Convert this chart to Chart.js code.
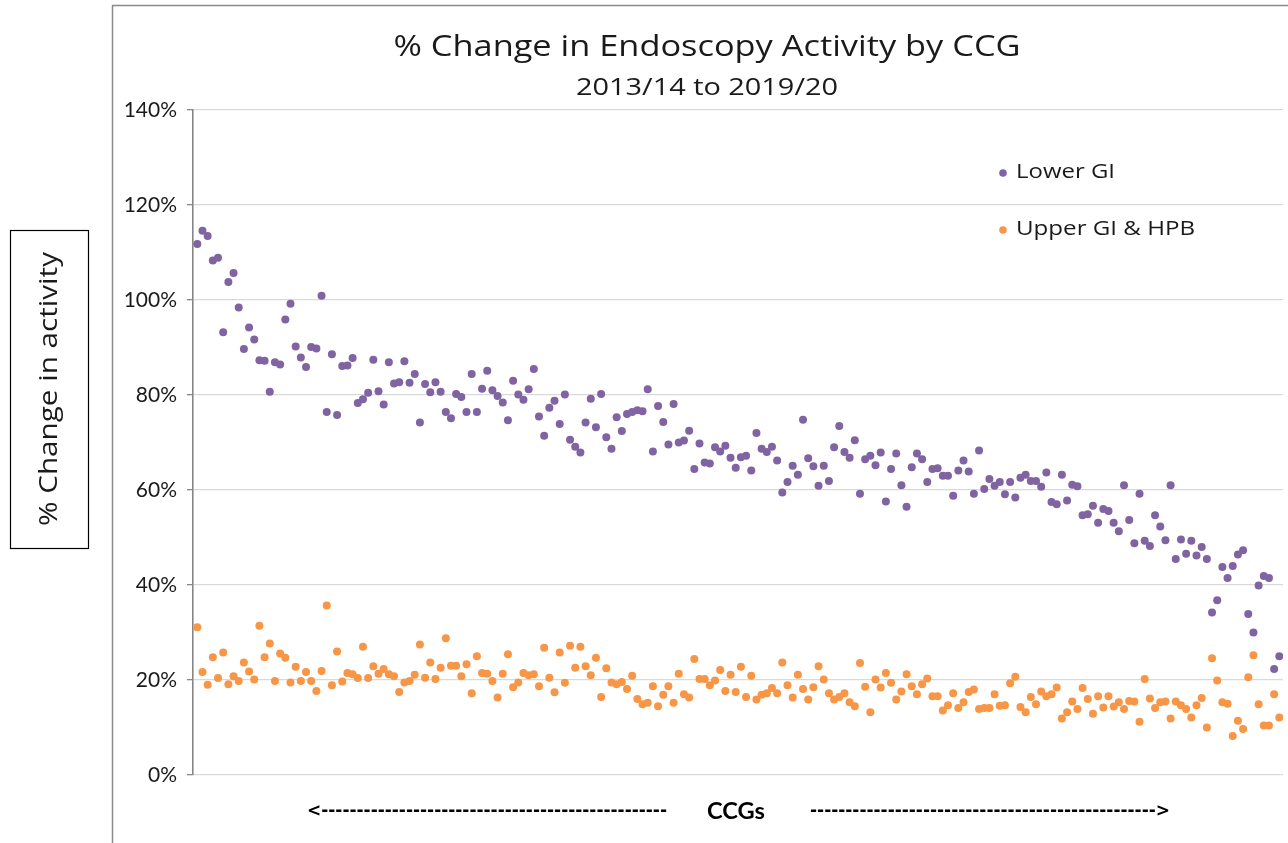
<!DOCTYPE html>
<html>
<head>
<meta charset="utf-8">
<script src="https://cdn.jsdelivr.net/npm/chart.js@4.4.1/dist/chart.umd.min.js"></script>
<style>
  html, body { margin: 0; padding: 0; background: #ffffff; }
  #wrap { position: relative; width: 1288px; height: 843px; }
  canvas { display: block; }
</style>
</head>
<body>
<div id="wrap"><canvas id="c" width="1288" height="843"></canvas></div>
<script>
// ---------------- DATA ----------------
const chartTitle = '% Change in Endoscopy Activity by CCG';
const chartSubtitle = '2013/14 to 2019/20';
const yAxisTitle = '% Change in activity';
const xAxisTitle = 'CCGs';
const seriesNames = ['Lower GI', 'Upper GI & HPB'];
const yTickValues = [0, 20, 40, 60, 80, 100, 120, 140];

// % change per CCG (CCGs ordered left to right as in the source chart)
const lowerGI = [
  111.8, 114.6, 113.5, 108.3, 108.9, 93.2, 103.8, 105.7, 98.4, 89.7, 94.2, 91.7, 87.3, 87.2, 80.7, 86.9, 86.4, 95.9, 99.2, 90.2,
  87.9, 85.9, 90.1, 89.8, 100.9, 76.4, 88.6, 75.8, 86.1, 86.2, 87.8, 78.3, 79.1, 80.5, 87.4,
  80.8, 78.0, 86.9, 82.4, 82.7, 87.1, 82.6, 84.4, 74.2, 82.3, 80.6, 82.7, 80.7, 76.4, 75.1, 80.2, 79.6, 76.4, 84.4, 76.4,
  81.3, 85.1, 81.0, 79.8, 78.4, 74.7, 83.0, 80.1, 79.0, 81.2, 85.5, 75.5, 71.4, 77.3, 78.8,
  73.9, 80.1, 70.6, 69.1, 67.9, 74.2, 79.2, 73.2, 80.2, 71.1, 68.7, 75.3, 72.4, 76.0, 76.4, 76.8, 76.6, 81.2, 68.1, 77.7,
  74.3, 69.6, 78.1, 70.0, 70.4, 72.5, 64.4, 69.8, 65.8, 65.6, 69.0, 68.1, 69.3, 66.8, 64.7,
  66.9, 67.2, 64.1, 72.0, 68.7, 68.0, 69.1, 66.2, 59.5, 61.7, 65.1, 63.2, 74.8, 66.7, 65.0, 60.9, 65.1, 61.9, 69.0, 73.5,
  68.0, 66.8, 70.5, 59.2, 66.5, 67.2, 65.2, 67.9, 57.6, 64.4, 67.7, 61.0, 56.5, 64.8,
  67.7, 66.5, 61.7, 64.4, 64.6, 63.0, 63.0, 58.8, 64.1, 66.2, 63.9, 59.2, 68.3, 60.2, 62.3, 60.9, 61.7, 59.1, 61.7, 58.4,
  62.6, 63.2, 61.9, 61.9, 60.7, 63.7, 57.5, 57.0, 63.2, 57.8, 61.1, 60.8, 54.7, 54.9, 56.7,
  53.1, 56.0, 55.6, 53.1, 51.3, 61.0, 53.7, 48.8, 59.2, 49.3, 48.2, 54.7, 52.3, 49.4, 61.0, 45.5, 49.6, 46.6, 49.3, 46.2,
  48.0, 45.5, 34.2, 36.8, 43.8, 41.5, 44.0, 46.4, 47.3, 33.9, 30.0, 39.9, 41.9, 41.5, 22.3, 25.0
];
const upperGI = [
  31.1, 21.7, 19.0, 24.8, 20.4, 25.8, 19.1, 20.8, 19.8, 23.7, 21.8, 20.1, 31.4, 24.8, 27.7, 19.8, 25.6, 24.7, 19.5, 22.8,
  19.8, 21.7, 19.8, 17.7, 21.9, 35.7, 18.9, 26.0, 19.7, 21.5, 21.2, 20.4, 27.0, 20.4, 22.9,
  21.3, 22.3, 21.2, 20.8, 17.5, 19.5, 19.8, 21.1, 27.5, 20.5, 23.7, 20.2, 22.6, 28.8, 23.0, 23.0, 20.8, 23.3, 17.2, 25.0,
  21.5, 21.3, 19.8, 16.3, 21.3, 25.4, 18.5, 19.5, 21.5, 21.0, 21.2, 18.7, 26.8, 20.5, 17.4,
  25.8, 19.4, 27.2, 22.6, 27.0, 22.9, 21.0, 24.7, 16.4, 22.5, 19.5, 19.1, 19.6, 18.1, 20.9, 16.0, 14.9, 15.2, 18.7, 14.5,
  16.9, 18.7, 15.2, 21.3, 17.0, 16.3, 24.4, 20.2, 20.2, 18.9, 19.9, 22.1, 17.7, 21.1, 17.5,
  22.8, 16.4, 20.9, 15.9, 16.9, 17.2, 18.3, 17.2, 23.7, 18.9, 16.3, 21.1, 18.1, 15.9, 18.5, 22.9, 20.1, 17.2, 15.9, 16.4,
  17.2, 15.3, 14.5, 23.6, 18.6, 13.2, 20.1, 18.4, 21.5, 19.4, 15.9, 17.6, 21.2, 18.7,
  17.0, 19.1, 20.3, 16.6, 16.6, 13.6, 14.7, 17.2, 14.1, 15.3, 17.5, 18.0, 13.9, 14.1, 14.1, 17.0, 14.6, 14.7, 19.3, 20.7,
  14.3, 13.2, 16.4, 14.9, 17.6, 16.6, 17.0, 18.4, 11.9, 13.2, 15.5, 13.9, 18.3, 16.0, 12.9,
  16.6, 14.2, 16.6, 14.4, 15.3, 13.9, 15.6, 15.5, 11.2, 20.2, 16.1, 14.1, 15.3, 15.5, 11.9, 15.5, 14.7, 13.9, 12.1, 14.7,
  16.2, 10.0, 24.6, 19.9, 15.3, 15.0, 8.2, 11.4, 9.7, 20.6, 25.2, 14.9, 10.4, 10.4, 17.0, 12.1
];
const ccgs = lowerGI.map((_, i) => i + 1);

// ---------------- STYLE ----------------
const PURPLE = '#8064a2';
const ORANGE = '#f79646';
const TEXT = '#1a1a1a';
const FONT = '"Open Sans", Lato, "Liberation Sans", sans-serif';
const TICK_FONT = 'Lato, "Open Sans", "Liberation Sans", sans-serif';

// draw text widened horizontally to a target width (source font is a wide geometric face)
function fitText(ctx, text, x, y, font, targetW) {
  ctx.font = font;
  const w = ctx.measureText(text).width;
  const s = targetW / w;
  ctx.save();
  ctx.translate(x, y);
  ctx.scale(s, 1);
  ctx.fillText(text, 0, 0);
  ctx.restore();
}

const decorPlugin = {
  id: 'decor',
  beforeDraw(chart) {
    const ctx = chart.ctx;
    ctx.save();
    ctx.fillStyle = '#ffffff';
    ctx.fillRect(0, 0, chart.width, chart.height);
    ctx.strokeStyle = '#8a8a8a';
    ctx.lineWidth = 1.5;
    ctx.beginPath();
    ctx.moveTo(112.5, chart.height);
    ctx.lineTo(112.5, 5.5);
    ctx.lineTo(chart.width, 5.5);
    ctx.stroke();
    ctx.restore();
  },
  afterDraw(chart) {
    const ctx = chart.ctx;
    ctx.save();
    ctx.fillStyle = TEXT;
    ctx.textBaseline = 'middle';
    ctx.textAlign = 'center';
    // title + subtitle
    fitText(ctx, chartTitle, 707, 47, '30px ' + FONT, 627);
    fitText(ctx, chartSubtitle, 707, 88, '23px ' + FONT, 262);

    // legend inside plot
    const legendItems = [
      { name: seriesNames[0], color: PURPLE, y: 172, w: 99 },
      { name: seriesNames[1], color: ORANGE, y: 229, w: 179 }
    ];
    ctx.textAlign = 'left';
    legendItems.forEach(it => {
      ctx.fillStyle = it.color;
      ctx.beginPath();
      ctx.arc(1003, it.y + 1, 3.8, 0, Math.PI * 2);
      ctx.fill();
      ctx.fillStyle = TEXT;
      fitText(ctx, it.name, 1016, it.y, '20px ' + FONT, it.w);
    });

    // y-axis title in a box
    ctx.strokeStyle = '#000000';
    ctx.lineWidth = 1.2;
    ctx.strokeRect(10.5, 230.5, 78, 318);
    ctx.save();
    ctx.translate(50, 389);
    ctx.rotate(-Math.PI / 2);
    ctx.textAlign = 'center';
    ctx.fillStyle = TEXT;
    fitText(ctx, yAxisTitle, 0, 0, '26px ' + FONT, 274);
    ctx.restore();

    // x-axis label with dashed arrows
    ctx.textAlign = 'center';
    ctx.fillStyle = '#000000';
    fitText(ctx, xAxisTitle, 736, 812, 'bold 22px ' + TICK_FONT, 58);
    ctx.font = 'bold 17px "DejaVu Sans", sans-serif';
    const dashW = ctx.measureText('-').width;
    const nL = Math.max(1, Math.floor((672 - 307 - ctx.measureText('<').width) / dashW));
    const nR = Math.max(1, Math.floor((1170 - 805 - ctx.measureText('>').width) / dashW));
    ctx.textAlign = 'left';
    ctx.fillText('<' + '-'.repeat(nL), 307, 812);
    ctx.textAlign = 'right';
    ctx.fillText('-'.repeat(nR) + '>', 1170, 812);
    ctx.restore();
  }
};

const ctx = document.getElementById('c').getContext('2d');
new Chart(ctx, {
  type: 'scatter',
  data: {
    datasets: [
      {
        label: seriesNames[0],
        data: ccgs.map((c, i) => ({ x: c, y: lowerGI[i] })),
        backgroundColor: PURPLE,
        borderWidth: 0,
        pointRadius: 4,
        pointHoverRadius: 4
      },
      {
        label: seriesNames[1],
        data: ccgs.map((c, i) => ({ x: c, y: upperGI[i] })),
        backgroundColor: ORANGE,
        borderWidth: 0,
        pointRadius: 4,
        pointHoverRadius: 4
      }
    ]
  },
  options: {
    responsive: false,
    animation: false,
    devicePixelRatio: 1,
    layout: { padding: { left: 113, right: 5, top: 110, bottom: 68 } },
    plugins: {
      legend: { display: false },
      tooltip: { enabled: false },
      title: { display: false }
    },
    scales: {
      x: {
        type: 'linear',
        display: false,
        min: 0.17,
        max: ccgs.length + 0.71
      },
      y: {
        type: 'linear',
        min: yTickValues[0],
        max: yTickValues[yTickValues.length - 1],
        afterFit(scale) { scale.width = 80; },
        afterBuildTicks(scale) { scale.ticks = yTickValues.map(v => ({ value: v })); },
        ticks: {
          callback: v => v + '%',
          color: TEXT,
          font: { family: TICK_FONT, size: 21 },
          padding: 10
        },
        grid: {
          color: '#d9d9d9',
          lineWidth: 1.3,
          drawTicks: true,
          tickLength: 6,
          tickColor: '#868686'
        },
        border: { display: true, color: '#868686', width: 1.6 }
      }
    }
  },
  plugins: [decorPlugin]
});
</script>
</body>
</html>
